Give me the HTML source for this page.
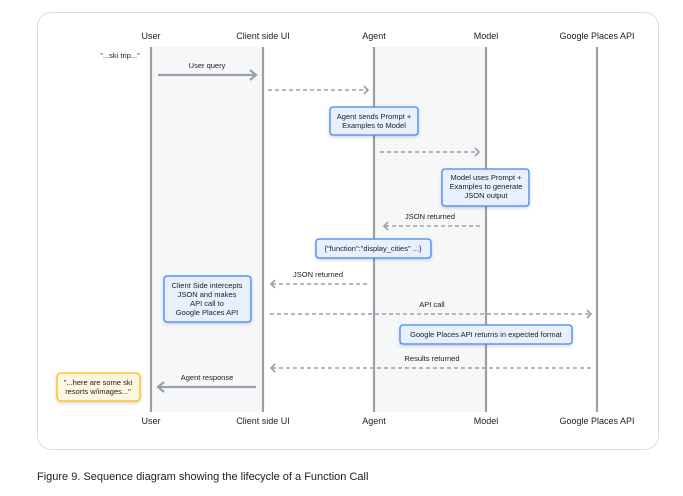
<!DOCTYPE html>
<html><head><style>
body{margin:0;width:683px;height:491px;background:#fff;font-family:"Liberation Sans",sans-serif;overflow:hidden}
</style></head><body>
<svg width="683" height="491" xmlns="http://www.w3.org/2000/svg" font-family="Liberation Sans, sans-serif">
<defs>
<filter id="sh" x="-20%" y="-20%" width="140%" height="160%"><feDropShadow dx="0" dy="1.5" stdDeviation="1.5" flood-color="#000" flood-opacity="0.18"/></filter>
</defs>
<rect x="37.5" y="12.5" width="621" height="437" rx="14" fill="#fff" stroke="#dadce0"/>
<rect x="151" y="47" width="112" height="365" fill="#f6f7f9"/>
<rect x="374" y="47" width="112" height="365" fill="#f6f7f9"/>
<g stroke="#9aa0a6" stroke-width="2.2">
<line x1="151" y1="47" x2="151" y2="412"/><line x1="263" y1="47" x2="263" y2="412"/>
<line x1="374" y1="47" x2="374" y2="412"/><line x1="486" y1="47" x2="486" y2="412"/>
<line x1="597" y1="47" x2="597" y2="412"/>
</g>
<g font-size="9" fill="#202124" text-anchor="middle">
<text x="151" y="39">User</text><text x="263" y="39">Client side UI</text><text x="374" y="39">Agent</text><text x="486" y="39">Model</text><text x="597" y="39">Google Places API</text>
<text x="151" y="424">User</text><text x="263" y="424">Client side UI</text><text x="374" y="424">Agent</text><text x="486" y="424">Model</text><text x="597" y="424">Google Places API</text>
</g>
<g font-size="7.5" fill="#202124" text-anchor="middle">
<text x="120" y="58">"...ski trip..."</text>
<text x="207" y="68">User query</text>
<text x="430" y="219">JSON returned</text>
<text x="318" y="277">JSON returned</text>
<text x="432" y="307">API call</text>
<text x="432" y="361">Results returned</text>
<text x="207" y="380">Agent response</text>
</g>
<g fill="none" stroke="#9aa0a6" stroke-width="1.6">
<line x1="158" y1="75" x2="255" y2="75" stroke-width="2.2"/><polyline points="250,70 256,75 250,80" stroke-width="2.2"/>
<line x1="158" y1="387" x2="256" y2="387" stroke-width="2.2"/><polyline points="164,382 158,387 164,392" stroke-width="2.2"/>
<g stroke-dasharray="4,3">
<line x1="268" y1="90" x2="368" y2="90"/><line x1="380" y1="152" x2="479" y2="152"/>
<line x1="385" y1="226" x2="481" y2="226"/><line x1="272" y1="284" x2="369" y2="284"/>
<line x1="270" y1="314" x2="591" y2="314"/><line x1="272" y1="368" x2="593" y2="368"/>
</g>
<polyline points="364,86 368,90 364,94"/><polyline points="475,148 479,152 475,156"/>
<polyline points="388,222 384,226 388,230"/><polyline points="275,280 271,284 275,288"/>
<polyline points="587,310 591,314 587,318"/><polyline points="275,364 271,368 275,372"/>
</g>
<g filter="url(#sh)" stroke-width="1.3">
<rect x="330" y="107" width="88" height="28" rx="3" fill="#e8f0fe" stroke="#4285f4"/>
<rect x="442" y="169" width="87" height="37" rx="3" fill="#e8f0fe" stroke="#4285f4"/>
<rect x="316" y="239" width="115" height="19" rx="3" fill="#e8f0fe" stroke="#4285f4"/>
<rect x="164" y="276" width="87" height="46" rx="3" fill="#e8f0fe" stroke="#4285f4"/>
<rect x="400" y="325" width="172" height="19" rx="3" fill="#e8f0fe" stroke="#4285f4"/>
<rect x="57" y="373" width="83" height="28" rx="4" fill="#fef7e0" stroke="#fbbc04"/>
</g>
<g font-size="7.5" fill="#202124" text-anchor="middle">
<text x="374" y="119">Agent sends Prompt +</text><text x="374" y="128">Examples to Model</text>
<text x="486" y="180">Model uses Prompt +</text><text x="486" y="189">Examples to generate</text><text x="486" y="198">JSON output</text>
<text x="373" y="251">{"function":"display_cities" ...}</text>
<text x="207" y="288">Client Side intercepts</text><text x="207" y="297">JSON and makes</text><text x="207" y="306">API call to</text><text x="207" y="315">Google Places API</text>
<text x="486" y="337">Google Places API returns in expected format</text>
<text x="98" y="385">"...here are some ski</text><text x="98" y="394">resorts w/images..."</text>
</g>
<text x="37" y="480" font-size="11" fill="#202124">Figure 9. Sequence diagram showing the lifecycle of a Function Call</text>
</svg>
</body></html>
